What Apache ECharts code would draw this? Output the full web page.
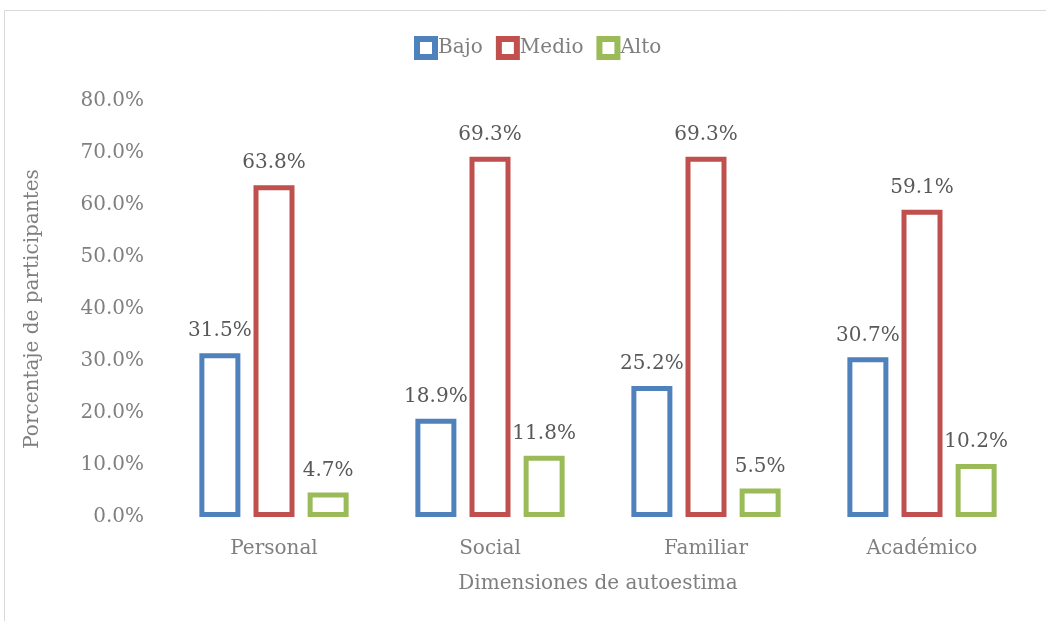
<!DOCTYPE html>
<html><head><meta charset="utf-8">
<script src="https://cdn.jsdelivr.net/npm/echarts@6/dist/echarts.min.js"></script>
<style>html,body{margin:0;padding:0;background:#fff}#c{width:1046px;height:621px}</style>
</head><body><div id="c"></div>
<script>
const categories = ['Personal', 'Social', 'Familiar', 'Académico'];
const bajo = [31.5, 18.9, 25.2, 30.7];
const medio = [63.8, 69.3, 69.3, 59.1];
const alto = [4.7, 11.8, 5.5, 10.2];
const seriesNames = ['Bajo', 'Medio', 'Alto'];
const colors = ['#4F81BD', '#C0504D', '#9BBB59'];
const FONT = 'DejaVu Serif';
const chart = echarts.init(document.getElementById('c'), null, {renderer: 'canvas'});
function mk(name, data, color) {
  return {
    name, type: 'bar', data, barWidth: 41, barGap: '32%',
    itemStyle: {color: '#ffffff', borderColor: color, borderWidth: 5},
    label: {show: true, position: 'top', distance: 12, formatter: p => p.value.toFixed(1) + '%',
      color: '#595959', fontFamily: FONT, fontSize: 20}
  };
}
chart.setOption({
  animation: false,
  backgroundColor: '#ffffff',
  graphic: [{type: 'rect', shape: {x: 4.5, y: 10.5, width: 1200, height: 800},
    style: {fill: 'none', stroke: '#d9d9d9', lineWidth: 1}, silent: true}],
  legend: {top: 31, left: 409, itemWidth: 18, itemHeight: 18, itemGap: 13,
    icon: 'rect', itemStyle: {borderWidth: 6},
    textStyle: {color: '#7f7f7f', fontFamily: FONT, fontSize: 20, padding: [0,0,0,-2]}},
  grid: {left: 166, right: 16, top: 101, bottom: 104},
  xAxis: {type: 'category', data: categories,
    axisLine: {show: false}, axisTick: {show: false},
    axisLabel: {color: '#7f7f7f', fontFamily: FONT, fontSize: 20, margin: 22},
    name: 'Dimensiones de autoestima', nameLocation: 'middle', nameGap: 57,
    nameTextStyle: {color: '#7f7f7f', fontFamily: FONT, fontSize: 20}},
  yAxis: {type: 'value', min: 0, max: 80, interval: 10,
    axisLine: {show: false}, axisTick: {show: false}, splitLine: {show: false},
    axisLabel: {color: '#7f7f7f', fontFamily: FONT, fontSize: 20, margin: 22, formatter: v => v.toFixed(1) + '%'},
    name: 'Porcentaje de participantes', nameLocation: 'middle', nameGap: 123, nameRotate: 90,
    nameTextStyle: {color: '#7f7f7f', fontFamily: FONT, fontSize: 20}},
  series: [mk(seriesNames[0], bajo, colors[0]), mk(seriesNames[1], medio, colors[1]), mk(seriesNames[2], alto, colors[2])]
});
</script></body></html>
